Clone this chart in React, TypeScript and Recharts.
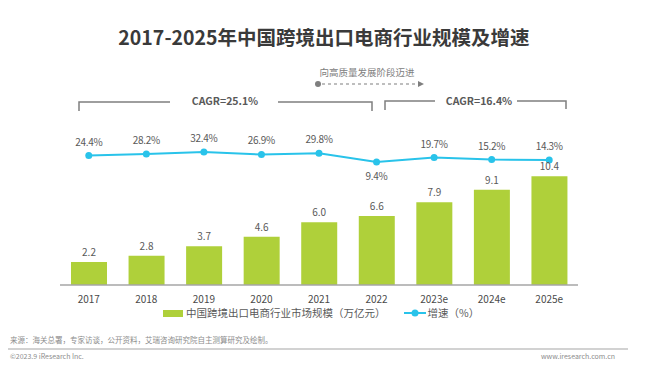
import {
  ComposedChart,
  Bar,
  Line,
  XAxis,
  YAxis,
  LabelList,
} from "recharts";

const years = ["2017", "2018", "2019", "2020", "2021", "2022", "2023e", "2024e", "2025e"];
const marketSize = [2.2, 2.8, 3.7, 4.6, 6.0, 6.6, 7.9, 9.1, 10.4];
const growthRate = [24.4, 28.2, 32.4, 26.9, 29.8, 9.4, 19.7, 15.2, 14.3];
const belowLabelYears = ["2022"];

const data = years.map((year, i) => ({
  year,
  size: marketSize[i],
  growth: growthRate[i],
}));

const GREEN = "#afd03a";
const CYAN = "#29c3ea";
const FONT = "'Noto Sans CJK SC', 'Noto Sans', sans-serif";

function GrowthLabel(props: any) {
  const { x, y, value, index } = props;
  const below = belowLabelYears.includes(years[index]);
  return (
    <text
      x={x}
      y={below ? y + 18 : y - 10}
      textAnchor="middle"
      fontSize={10}
      fill="#595959"
      fontFamily={FONT}
      letterSpacing={-0.3}
    >
      {`${value}%`}
    </text>
  );
}

function ChartLegend() {
  return (
    <div
      style={{
        position: "absolute",
        left: 0,
        top: 306,
        width: 647,
        height: 14,
        lineHeight: "14px",
        display: "flex",
        justifyContent: "flex-start",
        alignItems: "center",
        fontSize: 10.5,
        color: "#595959",
        fontFamily: FONT,
        paddingLeft: 163,
        boxSizing: "border-box",
      }}
    >
      <span style={{ display: "inline-block", width: 20, height: 7, background: GREEN, marginRight: 3 }} />
      <span>中国跨境出口电商行业市场规模（万亿元）</span>
      <svg width={22} height={10} style={{ marginLeft: 18, marginRight: 2 }}>
        <line x1={0} y1={5} x2={22} y2={5} stroke={CYAN} strokeWidth={2} />
        <circle cx={11} cy={5} r={3.5} fill={CYAN} />
      </svg>
      <span>增速（%）</span>
    </div>
  );
}

export default function App() {
  return (
    <div
      style={{
        position: "absolute",
        left: 0,
        top: 0,
        width: 647,
        height: 381,
        background: "#fff",
        fontFamily: FONT,
      }}
    >
      <ComposedChart
        width={647}
        height={381}
        data={data}
        margin={{ top: 60, right: 69, bottom: 76, left: 60 }}
        style={{ position: "absolute", left: 0, top: 0 }}
      >
        <XAxis
          dataKey="year"
          axisLine={{ stroke: "#a6a6a6", strokeWidth: 1.5 }}
          tickLine={false}
          tick={{ fontSize: 10, fill: "#4a4a4a", fontFamily: FONT }}
          tickMargin={5}
          height={20}
        />
        <YAxis yAxisId="size" hide domain={[0, 21.5]} />
        <YAxis yAxisId="growth" hide orientation="right" domain={[-273, 244]} />
        <Bar yAxisId="size" dataKey="size" fill={GREEN} barSize={36} isAnimationActive={false}>
          <LabelList
            dataKey="size"
            position="top"
            offset={6}
            fontSize={10}
            fill="#595959"
            fontFamily={FONT}
            formatter={(v: any) => Number(v).toFixed(1)}
          />
        </Bar>
        <Line
          yAxisId="growth"
          dataKey="growth"
          stroke={CYAN}
          strokeWidth={2}
          dot={{ r: 3.5, fill: CYAN, stroke: CYAN, strokeWidth: 0 }}
          isAnimationActive={false}
        >
          <LabelList dataKey="growth" content={GrowthLabel} />
        </Line>
      </ComposedChart>

      <ChartLegend />

      <svg
        width={647}
        height={381}
        style={{ position: "absolute", left: 0, top: 0, pointerEvents: "none" }}
        fontFamily={FONT}
      >
        <text x={324} y={45} textAnchor="middle" fontSize={19.5} fontWeight={700} fill="#3a3a3a">
          2017-2025年中国跨境出口电商行业规模及增速
        </text>

        <text x={367} y={76} textAnchor="middle" fontSize={9.5} fill="#808080">
          向高质量发展阶段迈进
        </text>
        <circle cx={318} cy={84} r={3} fill="#7f7f7f" />
        <line x1={322} y1={84} x2={418} y2={84} stroke="#7f7f7f" strokeWidth={1.2} strokeDasharray="3 3" />
        <polygon points="418,81 424,84 418,87" fill="#7f7f7f" />

        <path d="M79,111 V102 H170 M278,102 H372 V111" fill="none" stroke="#7f7f7f" strokeWidth={1.5} />
        <text x={225} y={105} textAnchor="middle" fontSize={10.5} fontWeight={700} fill="#595959">
          CAGR=25.1%
        </text>
        <path d="M385,110 V101 H435 M517,101 H566 V109" fill="none" stroke="#7f7f7f" strokeWidth={1.5} />
        <text x={479} y={105} textAnchor="middle" fontSize={10.5} fontWeight={700} fill="#595959">
          CAGR=16.4%
        </text>

        <text x={10} y={343} fontSize={7.5} fill="#8c8c8c">
          来源：海关总署，专家访谈，公开资料，艾瑞咨询研究院自主测算研究及绘制。
        </text>
        <line x1={8} y1={349} x2={628} y2={349} stroke="#a6a6a6" strokeWidth={1.2} />
        <text x={10} y={359} fontSize={7} fill="#8c8c8c">
          ©2023.9 iResearch Inc.
        </text>
        <text x={615} y={359} textAnchor="end" fontSize={7} fill="#8c8c8c">
          www.iresearch.com.cn
        </text>
      </svg>
    </div>
  );
}
